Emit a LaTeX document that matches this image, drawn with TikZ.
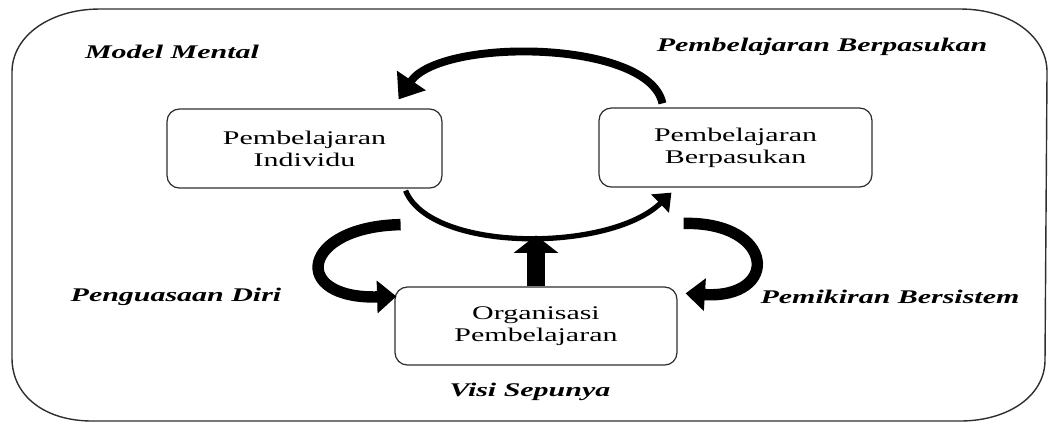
\documentclass[tikz,border=0pt]{standalone}
\usepackage{fontspec}
\setmainfont{Liberation Serif}[FakeStretch=1.55]
\usetikzlibrary{calc,arrows.meta}
\definecolor{ink}{HTML}{000000}
\definecolor{frame}{HTML}{2E2E2E}
\tikzset{
  outer/.style={draw=frame, line width=0.8pt, line join=round},
  box/.style={draw=frame, line width=0.7pt, rounded corners=7pt, align=center, text=ink, font=\fontsize{11}{12.5}\selectfont, inner sep=2pt},
  lab/.style={text=ink, font=\fontsize{11}{12.5}\selectfont\bfseries\itshape},
  arcthick/.style={draw=ink, line width=4.5pt, -{Triangle[length=13pt,width=19pt]}},
  arcthin/.style={draw=ink, line width=3pt, -{Triangle[length=9pt,width=14pt]}},
  curl/.style={draw=ink, line width=6.5pt, -{Triangle[length=11pt,width=18pt]}},
  riser/.style={draw=ink, line width=10.5pt, -{Triangle[length=10pt,width=25pt]}},
}

\begin{document}
\begin{tikzpicture}[x=0.02cm,y=-0.02cm]
  \useasboundingbox (0,0) rectangle (1057,424);
  % frame
  \draw[outer] (100,9) -- (960,9) .. controls (1010,9) and (1047,36) .. (1047,72)
    -- (1045,360) .. controls (1045,396) and (1008,421) .. (960,421)
    -- (92,421) .. controls (45,421) and (12,396) .. (12,358)
    -- (12,72) .. controls (12,36) and (50,9) .. (100,9) -- cycle;
  % boxes
  \node[box, minimum width=5.5cm, minimum height=1.58cm] (ind) at (304.5,148.5) {Pembelajaran\\Individu};
  \node[box, minimum width=5.46cm, minimum height=1.58cm] (bp) at (735.5,147.5) {Pembelajaran\\Berpasukan};
  \node[box, minimum width=5.64cm, minimum height=1.56cm] (op) at (536,326) {Organisasi\\Pembelajaran};
  % labels
  \node[lab] (mm) at (172,52) {Model Mental};
  \node[lab] (pbk) at (822,47) {Pembelajaran Berpasukan};
  \node[lab] (pdr) at (176,297) {Penguasaan Diri};
  \node[lab] (pbs) at (890,297) {Pemikiran Bersistem};
  \node[lab] (vsp) at (530,392) {Visi Sepunya};
  % arrows
  \coordinate (meet) at ($(op.north)+(0,-51)$);
  \coordinate (ls) at ($(ind.south east)+(-42,36)$);
  \coordinate (rs) at ($(op.north east)+(6,-63)$);
  \draw[arcthick] ($(bp.north west)+(64,-4)$) .. controls +(-13,-64) and +(42,-62) .. ($(ind.north east)+(-44,-9)$);
  \draw[arcthin] ($(ind.south east)+(-37,2)$) .. controls +(25,62) and +(-62,60) .. ($(bp.south west)+(73,5)$);
  \draw[riser] (op.north) -- (meet);
  \draw[curl] (ls) .. controls +(-100,2) and +(-107,3) .. ($(op.north west)+(2,10)$);
  \draw[curl] (rs) .. controls +(92,-2) and +(95,6) .. ($(op.north east)+(8,7)$);
\end{tikzpicture}
\end{document}
